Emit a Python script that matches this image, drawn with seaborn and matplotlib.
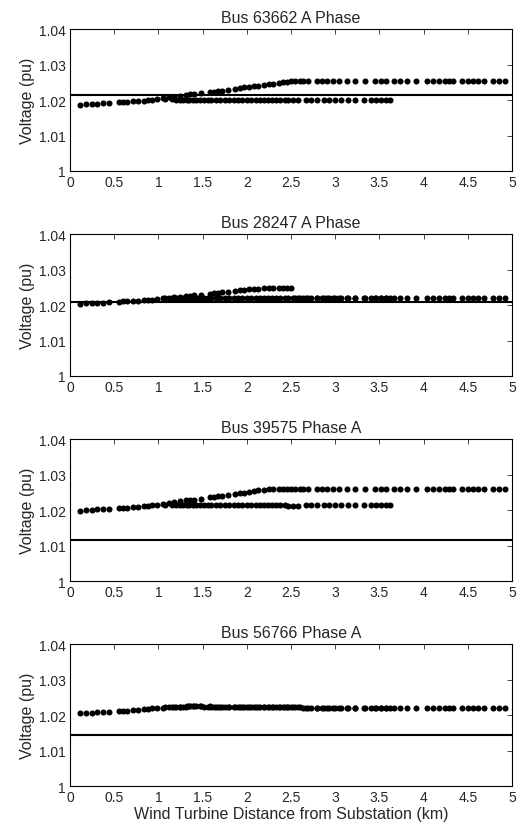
import matplotlib
matplotlib.use("Agg")
import matplotlib.pyplot as plt
from matplotlib.ticker import FormatStrFormatter
import seaborn as sns
import pandas as pd

# distances (km) of the buses where the turbine was placed
x_trunk = [0.11, 0.18, 0.25, 0.31, 0.37, 0.44, 0.55, 0.60, 0.65, 0.71, 0.77, 0.84, 0.88, 0.93, 0.99]
x_main = [1.05, 1.12, 1.18, 1.25, 1.31, 1.36, 1.40, 1.48, 1.58, 1.63, 1.67, 1.72, 1.79, 1.87, 1.92,
          1.97, 2.02, 2.08, 2.13, 2.20, 2.25, 2.30, 2.36, 2.41, 2.46, 2.50, 2.55, 2.60, 2.64, 2.69,
          2.80, 2.85, 2.91, 2.97, 3.04, 3.13, 3.22, 3.34, 3.45, 3.52, 3.57, 3.66, 3.73, 3.81, 3.91,
          4.04, 4.11, 4.17, 4.24, 4.29, 4.33, 4.44, 4.50, 4.56, 4.62, 4.68, 4.78, 4.85, 4.92]
x_lat = [1.08, 1.15, 1.20, 1.24, 1.28, 1.32, 1.35, 1.39, 1.43, 1.47, 1.52, 1.56, 1.60, 1.65, 1.70,
         1.75, 1.80, 1.85, 1.90, 1.95, 2.00, 2.05, 2.10, 2.15, 2.20, 2.24, 2.28, 2.33, 2.38, 2.43,
         2.47, 2.52, 2.58, 2.67, 2.73, 2.80, 2.87, 2.93, 3.00, 3.07, 3.15, 3.22, 3.33, 3.40, 3.46,
         3.52, 3.57, 3.62]

titles = ["Bus 63662 A Phase", "Bus 28247 A Phase", "Bus 39575 Phase A", "Bus 56766 Phase A"]
ref_v = [1.0216, 1.0209, 1.0116, 1.0143]

# Bus 63662
v1_trunk = [1.0187, 1.0189, 1.0189, 1.0190, 1.0191, 1.0192, 1.0194, 1.0195, 1.0196, 1.0197, 1.0198,
            1.0199, 1.0200, 1.0201, 1.0202]
v1_main = [1.0205, 1.0208, 1.0210, 1.0212, 1.0215, 1.0217, 1.0218, 1.0220, 1.0222, 1.0224, 1.0225,
           1.0226, 1.0228, 1.0232, 1.0234, 1.0236, 1.0237, 1.0239, 1.0241, 1.0244, 1.0246, 1.0247,
           1.0249, 1.0250, 1.0251, 1.0253, 1.0253, 1.0253, 1.0253, 1.0253, 1.0253, 1.0253, 1.0253,
           1.0253, 1.0253, 1.0253, 1.0253, 1.0253, 1.0253, 1.0253, 1.0253, 1.0253, 1.0253, 1.0253,
           1.0253, 1.0253, 1.0253, 1.0253, 1.0253, 1.0253, 1.0253, 1.0253, 1.0253, 1.0253, 1.0253,
           1.0253, 1.0253, 1.0253, 1.0253]
v1_lat = [1.0202, 1.0202, 1.0201, 1.0201, 1.0201, 1.0201, 1.0201, 1.0201, 1.0201, 1.0201, 1.0201,
          1.0201, 1.0200, 1.0200, 1.0200, 1.0200, 1.0200, 1.0200, 1.0200, 1.0200, 1.0200, 1.0200,
          1.0200, 1.0200, 1.0200, 1.0200, 1.0201, 1.0201, 1.0201, 1.0201, 1.0201, 1.0201, 1.0201,
          1.0201, 1.0201, 1.0201, 1.0201, 1.0201, 1.0201, 1.0201, 1.0201, 1.0201, 1.0201, 1.0201,
          1.0201, 1.0201, 1.0201, 1.0201]

# Bus 28247
v2_trunk = [1.0204, 1.0205, 1.0206, 1.0207, 1.0207, 1.0208, 1.0210, 1.0211, 1.0211, 1.0212, 1.0213,
            1.0214, 1.0215, 1.0216, 1.0217]
v2_main = [1.0220, 1.0221, 1.0222, 1.0224, 1.0226, 1.0227, 1.0228, 1.0230, 1.0232, 1.0234, 1.0235,
           1.0236, 1.0238, 1.0240, 1.0243, 1.0244, 1.0245, 1.0246, 1.0247, 1.0248, 1.0248, 1.0248,
           1.0249, 1.0249, 1.0249, 1.0249, 1.0219, 1.0219, 1.0219, 1.0219, 1.0219, 1.0219, 1.0219,
           1.0219, 1.0219, 1.0219, 1.0219, 1.0219, 1.0219, 1.0219, 1.0219, 1.0219, 1.0219, 1.0219,
           1.0219, 1.0219, 1.0219, 1.0219, 1.0219, 1.0219, 1.0219, 1.0219, 1.0219, 1.0219, 1.0219,
           1.0219, 1.0219, 1.0219, 1.0219]
v2_lat = [1.0219, 1.0219, 1.0219, 1.0220, 1.0220, 1.0220, 1.0220, 1.0220, 1.0220, 1.0220, 1.0220,
          1.0220, 1.0220, 1.0220, 1.0220, 1.0220, 1.0220, 1.0220, 1.0220, 1.0220, 1.0220, 1.0220,
          1.0220, 1.0220, 1.0220, 1.0220, 1.0220, 1.0220, 1.0220, 1.0220, 1.0220, 1.0219, 1.0219,
          1.0219, 1.0219, 1.0219, 1.0219, 1.0219, 1.0219, 1.0219, 1.0219, 1.0219, 1.0219, 1.0219,
          1.0219, 1.0219, 1.0219, 1.0219]

# Bus 39575
v3_trunk = [1.0199, 1.0200, 1.0201, 1.0202, 1.0203, 1.0203, 1.0205, 1.0206, 1.0207, 1.0208, 1.0209,
            1.0212, 1.0213, 1.0214, 1.0215]
v3_main = [1.0217, 1.0221, 1.0224, 1.0227, 1.0228, 1.0229, 1.0230, 1.0232, 1.0236, 1.0238, 1.0239,
           1.0241, 1.0243, 1.0246, 1.0248, 1.0250, 1.0252, 1.0254, 1.0256, 1.0258, 1.0259, 1.0259,
           1.0259, 1.0259, 1.0259, 1.0259, 1.0259, 1.0259, 1.0259, 1.0259, 1.0259, 1.0259, 1.0259,
           1.0259, 1.0259, 1.0259, 1.0259, 1.0259, 1.0259, 1.0259, 1.0259, 1.0259, 1.0259, 1.0259,
           1.0259, 1.0259, 1.0259, 1.0259, 1.0259, 1.0259, 1.0259, 1.0259, 1.0259, 1.0259, 1.0259,
           1.0259, 1.0259, 1.0259, 1.0259]
v3_lat = [1.0215, 1.0214, 1.0214, 1.0214, 1.0214, 1.0214, 1.0214, 1.0214, 1.0214, 1.0214, 1.0214,
          1.0214, 1.0214, 1.0214, 1.0214, 1.0214, 1.0214, 1.0214, 1.0214, 1.0214, 1.0214, 1.0214,
          1.0214, 1.0214, 1.0214, 1.0214, 1.0214, 1.0214, 1.0214, 1.0214, 1.0213, 1.0213, 1.0213,
          1.0214, 1.0214, 1.0214, 1.0214, 1.0214, 1.0214, 1.0214, 1.0214, 1.0214, 1.0214, 1.0214,
          1.0214, 1.0214, 1.0214, 1.0214]

# Bus 56766
v4_trunk = [1.0205, 1.0206, 1.0207, 1.0208, 1.0209, 1.0210, 1.0212, 1.0213, 1.0213, 1.0215, 1.0216,
            1.0218, 1.0218, 1.0219, 1.0220]
v4_main = [1.0221, 1.0222, 1.0223, 1.0224, 1.0224, 1.0225, 1.0225, 1.0225, 1.0225, 1.0224, 1.0224,
           1.0224, 1.0224, 1.0223, 1.0223, 1.0223, 1.0223, 1.0223, 1.0223, 1.0223, 1.0223, 1.0222,
           1.0222, 1.0222, 1.0222, 1.0222, 1.0222, 1.0222, 1.0221, 1.0221, 1.0221, 1.0221, 1.0221,
           1.0221, 1.0221, 1.0221, 1.0221, 1.0221, 1.0220, 1.0221, 1.0221, 1.0220, 1.0220, 1.0220,
           1.0220, 1.0220, 1.0220, 1.0220, 1.0220, 1.0220, 1.0220, 1.0220, 1.0220, 1.0220, 1.0220,
           1.0220, 1.0220, 1.0220, 1.0220]
v4_lat = [1.0222, 1.0223, 1.0224, 1.0224, 1.0224, 1.0225, 1.0225, 1.0225, 1.0225, 1.0225, 1.0224,
          1.0224, 1.0224, 1.0224, 1.0224, 1.0223, 1.0223, 1.0223, 1.0223, 1.0223, 1.0223, 1.0223,
          1.0223, 1.0223, 1.0223, 1.0222, 1.0222, 1.0222, 1.0222, 1.0222, 1.0222, 1.0222, 1.0222,
          1.0221, 1.0221, 1.0221, 1.0221, 1.0221, 1.0221, 1.0221, 1.0221, 1.0221, 1.0221, 1.0221,
          1.0221, 1.0221, 1.0220, 1.0220]

panels = [(v1_trunk, v1_main, v1_lat), (v2_trunk, v2_main, v2_lat),
          (v3_trunk, v3_main, v3_lat), (v4_trunk, v4_main, v4_lat)]

sns.set_style("white")
plt.rcParams['font.family'] = ['Liberation Sans', 'DejaVu Sans']

fig = plt.figure(figsize=(5.29, 8.28), dpi=100)
bottoms = [0.7923, 0.5447, 0.2971, 0.0495]

for i, (vt, vm, vl) in enumerate(panels):
    df = pd.DataFrame({
        "x": x_trunk + x_main + x_lat,
        "v": vt + vm + vl,
    })
    ax = fig.add_axes([0.1323, bottoms[i], 0.8355, 0.1710])
    sns.scatterplot(data=df, x="x", y="v", ax=ax, color="black", s=19, linewidth=0)
    ax.axhline(ref_v[i], color="black", lw=1.5)
    ax.set_xlim(0, 5)
    ax.set_ylim(1.0, 1.04)
    ax.set_xticks([0, 0.5, 1, 1.5, 2, 2.5, 3, 3.5, 4, 4.5, 5])
    ax.set_yticks([1.0, 1.01, 1.02, 1.03, 1.04])
    ax.xaxis.set_major_formatter(FormatStrFormatter('%g'))
    ax.yaxis.set_major_formatter(FormatStrFormatter('%g'))
    ax.tick_params(direction="in", length=3.5, width=0.6, top=True, right=True,
                   labelsize=10, pad=3)
    for sp in ax.spines.values():
        sp.set_linewidth(0.8)
        sp.set_color("black")
    ax.set_title(titles[i], fontsize=11.5, pad=5)
    ax.set_ylabel("Voltage (pu)", fontsize=11.5, labelpad=3)
    if i == 3:
        ax.set_xlabel("Wind Turbine Distance from Substation (km)", fontsize=11.5, labelpad=1)
    else:
        ax.set_xlabel("")

fig.savefig("out.png", dpi=100)
plt.close()
